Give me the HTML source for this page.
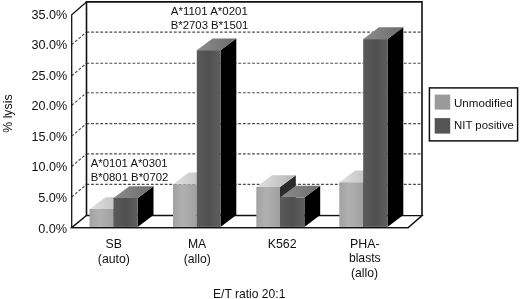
<!DOCTYPE html>
<html><head><meta charset="utf-8"><title>chart</title>
<style>
html,body{margin:0;padding:0;background:#fff;}
svg{display:block;}
text{font-family:"Liberation Sans",Arial,Helvetica,sans-serif;fill:#111;}
</style></head><body>
<svg width="520" height="299" viewBox="0 0 520 299">
<defs>
<linearGradient id="lf" x1="0" x2="1" y1="0" y2="0"><stop offset="0" stop-color="#a2a2a2"/><stop offset="0.4" stop-color="#b0b0b0"/><stop offset="1" stop-color="#a0a0a0"/></linearGradient>
<linearGradient id="lt" x1="0" x2="1" y1="0" y2="0"><stop offset="0" stop-color="#e2e2e2"/><stop offset="1" stop-color="#b4b4b4"/></linearGradient>
<linearGradient id="df" x1="0" x2="1" y1="0" y2="0"><stop offset="0" stop-color="#5a5a5a"/><stop offset="0.5" stop-color="#505050"/><stop offset="1" stop-color="#5e5e5e"/></linearGradient>
<linearGradient id="dt" x1="0" x2="1" y1="0" y2="0"><stop offset="0" stop-color="#8c8c8c"/><stop offset="1" stop-color="#6c6c6c"/></linearGradient>
</defs>
<rect width="520" height="299" fill="#fff"/>

<g stroke="#4a4a4a" stroke-width="1.1" stroke-dasharray="2.8 1.8" fill="none"><line x1="86.5" y1="32.1" x2="422" y2="32.1"/>
<line x1="71.7" y1="44.7" x2="86.5" y2="32.1"/>
<line x1="86.5" y1="63.2" x2="422" y2="63.2"/>
<line x1="71.7" y1="75.8" x2="86.5" y2="63.2"/>
<line x1="86.5" y1="92.8" x2="422" y2="92.8"/>
<line x1="71.7" y1="105.4" x2="86.5" y2="92.8"/>
<line x1="86.5" y1="123.6" x2="422" y2="123.6"/>
<line x1="71.7" y1="136.2" x2="86.5" y2="123.6"/>
<line x1="86.5" y1="153.9" x2="422" y2="153.9"/>
<line x1="71.7" y1="166.5" x2="86.5" y2="153.9"/>
<line x1="86.5" y1="184.4" x2="422" y2="184.4"/>
<line x1="71.7" y1="197.0" x2="86.5" y2="184.4"/></g>
<g stroke="#111" fill="none" stroke-linejoin="miter">
<polygon points="71.7,227.6 408.3,227.6 422,215.6 86.5,215.4" fill="#fff" stroke-width="1.4"/>
<polyline points="71.7,227.6 71.7,14.7 86.5,1.9" stroke-width="1.3"/>
<polyline points="86.5,215.4 86.5,1.9 422,1.9 422,215.4" stroke-width="1.6"/>
</g>
<polygon points="113.5,209 129.3,197.2 129.3,215.1 113.5,226.9" fill="#2b2b2b"/>
<polygon points="89.5,209 105.3,197.2 129.3,197.2 113.5,209" fill="url(#lt)"/>
<rect x="89.5" y="209" width="24.0" height="17.900000000000006" fill="url(#lf)"/>
<polygon points="137.7,198 153.5,186.2 153.5,215.1 137.7,226.9" fill="#000"/>
<polygon points="113.5,198 129.3,186.2 153.5,186.2 137.7,198" fill="url(#dt)"/>
<rect x="113.5" y="198" width="24.19999999999999" height="28.900000000000006" fill="url(#df)"/>
<polygon points="196.8,184.3 212.60000000000002,172.5 212.60000000000002,215.1 196.8,226.9" fill="#2b2b2b"/>
<polygon points="173,184.3 188.8,172.5 212.60000000000002,172.5 196.8,184.3" fill="url(#lt)"/>
<rect x="173" y="184.3" width="23.80000000000001" height="42.599999999999994" fill="url(#lf)"/>
<polygon points="220.5,50.2 236.3,38.400000000000006 236.3,215.1 220.5,226.9" fill="#000"/>
<polygon points="196.8,50.2 212.60000000000002,38.400000000000006 236.3,38.400000000000006 220.5,50.2" fill="url(#dt)"/>
<rect x="196.8" y="50.2" width="23.69999999999999" height="176.7" fill="url(#df)"/>
<polygon points="280,187 295.8,175.2 295.8,215.1 280,226.9" fill="#2b2b2b"/>
<polygon points="256.3,187 272.1,175.2 295.8,175.2 280,187" fill="url(#lt)"/>
<rect x="256.3" y="187" width="23.69999999999999" height="39.900000000000006" fill="url(#lf)"/>
<polygon points="304.4,197.6 320.2,185.79999999999998 320.2,215.1 304.4,226.9" fill="#000"/>
<polygon points="280,197.6 295.8,185.79999999999998 320.2,185.79999999999998 304.4,197.6" fill="url(#dt)"/>
<rect x="280" y="197.6" width="24.399999999999977" height="29.30000000000001" fill="url(#df)"/>
<polygon points="363.2,182.3 379.0,170.5 379.0,215.1 363.2,226.9" fill="#2b2b2b"/>
<polygon points="339.3,182.3 355.1,170.5 379.0,170.5 363.2,182.3" fill="url(#lt)"/>
<rect x="339.3" y="182.3" width="23.899999999999977" height="44.599999999999994" fill="url(#lf)"/>
<polygon points="387.5,39.1 403.3,27.3 403.3,215.1 387.5,226.9" fill="#000"/>
<polygon points="363.2,39.1 379.0,27.3 403.3,27.3 387.5,39.1" fill="url(#dt)"/>
<rect x="363.2" y="39.1" width="24.30000000000001" height="187.8" fill="url(#df)"/>
<line x1="71" y1="227.6" x2="408.6" y2="227.6" stroke="#111" stroke-width="1.4"/>
<text x="31.4" y="19.1" font-size="12.3" textLength="35.8" lengthAdjust="spacingAndGlyphs">35.0%</text>
<text x="31.4" y="49.3" font-size="12.3" textLength="35.8" lengthAdjust="spacingAndGlyphs">30.0%</text>
<text x="31.4" y="80.4" font-size="12.3" textLength="35.8" lengthAdjust="spacingAndGlyphs">25.0%</text>
<text x="31.4" y="110.0" font-size="12.3" textLength="35.8" lengthAdjust="spacingAndGlyphs">20.0%</text>
<text x="31.4" y="140.8" font-size="12.3" textLength="35.8" lengthAdjust="spacingAndGlyphs">15.0%</text>
<text x="31.4" y="171.1" font-size="12.3" textLength="35.8" lengthAdjust="spacingAndGlyphs">10.0%</text>
<text x="38.2" y="201.6" font-size="12.3" textLength="29.0" lengthAdjust="spacingAndGlyphs">5.0%</text>
<text x="38.2" y="232.5" font-size="12.3" textLength="29.0" lengthAdjust="spacingAndGlyphs">0.0%</text>
<text transform="translate(12.4,113.6) rotate(-90)" font-size="12.3" text-anchor="middle">% lysis</text>
<text x="113.8" y="247.5" font-size="12.3" text-anchor="middle">SB</text>
<text x="113.9" y="262.5" font-size="12.3" text-anchor="middle">(auto)</text>
<text x="197.1" y="247.5" font-size="12.2" text-anchor="middle">MA</text>
<text x="197.2" y="262.5" font-size="12.2" text-anchor="middle">(allo)</text>
<text x="282.2" y="247.5" font-size="12.4" text-anchor="middle">K562</text>
<text x="364.8" y="247.5" font-size="12.4" text-anchor="middle">PHA-</text>
<text x="364.8" y="262.3" font-size="12.2" text-anchor="middle">blasts</text>
<text x="364.5" y="276.8" font-size="12.2" text-anchor="middle">(allo)</text>
<text x="213" y="297.5" font-size="12.1">E/T ratio 20:1</text>
<text x="170.8" y="14.8" font-size="11.3" textLength="77" lengthAdjust="spacingAndGlyphs">A*1101 A*0201</text>
<text x="170.8" y="29.2" font-size="11.3" textLength="77.5" lengthAdjust="spacingAndGlyphs">B*2703 B*1501</text>
<text x="90.8" y="167" font-size="11.3" textLength="76.7" lengthAdjust="spacingAndGlyphs">A*0101 A*0301</text>
<text x="90.8" y="181" font-size="11.3" textLength="77.5" lengthAdjust="spacingAndGlyphs">B*0801 B*0702</text>
<rect x="429.4" y="87.9" width="88.2" height="53" fill="#fff" stroke="#111" stroke-width="1.5"/>
<rect x="434.7" y="94.6" width="15.5" height="15" fill="#9a9a9a"/>
<rect x="434.7" y="118.1" width="15.5" height="15.5" fill="#555"/>
<text x="454" y="106.9" font-size="11.6">Unmodified</text>
<text x="454" y="129.4" font-size="11.4">NIT positive</text>
</svg></body></html>
